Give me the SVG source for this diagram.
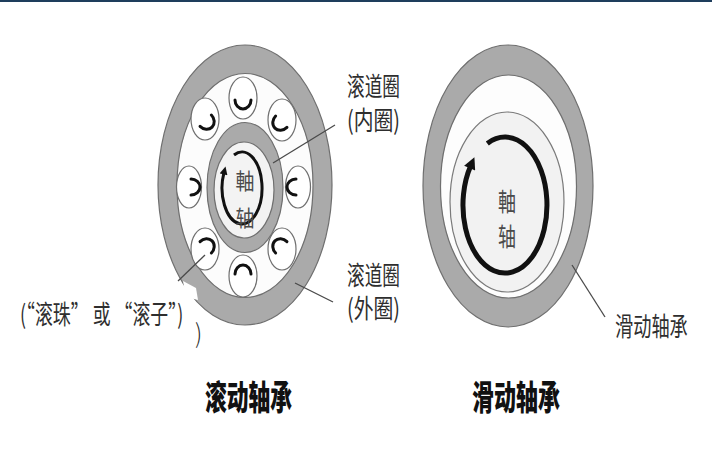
<svg xmlns="http://www.w3.org/2000/svg" width="712" height="467" viewBox="0 0 712 467">
  <defs>
    <style>
      .ring { fill: #aaaaaa; stroke: #6f6f6f; stroke-width: 1.2; }
      .gap { fill: #fcfcfc; stroke: #6f6f6f; stroke-width: 1.2; }
      .roller { fill: #ffffff; stroke: #6f6f6f; stroke-width: 1.2; }
      .cup { fill: none; stroke: #111; stroke-width: 3; stroke-linecap: round; }
      .lead { stroke: #4a4a4a; stroke-width: 1.3; fill: none; }
      .lbl { font-family: "Noto Sans CJK SC", "Noto Sans", sans-serif; fill: #2e2e2e; font-size: 26px; }
      .ttl { font-family: "Noto Sans CJK SC", "Noto Sans", sans-serif; font-weight: 900; fill: #111; font-size: 34px; }
      .axle { font-family: "Noto Sans CJK SC", "Noto Sans", sans-serif; fill: #4a4a4a; text-anchor: middle; }
    </style>
    <marker id="headS" viewBox="0 0 10 10" refX="2" refY="5" markerWidth="9" markerHeight="8" markerUnits="userSpaceOnUse" orient="auto">
      <path d="M0,0 L10,5 L0,10 Z" fill="#111"/>
    </marker>
    <marker id="headL" viewBox="0 0 10 10" refX="2" refY="5" markerWidth="14" markerHeight="12" markerUnits="userSpaceOnUse" orient="auto">
      <path d="M0,0 L10,5 L0,10 Z" fill="#111"/>
    </marker>
    <!-- cup-shaped mark inside a roller, bulging toward +y -->
    <path id="cup" class="cup" d="M-8,1 A8,9 0 0 0 8,1"/>
  </defs>

  <rect x="0" y="0" width="712" height="467" fill="#ffffff"/>
  <!-- top rule -->
  <rect x="0" y="0" width="712" height="2" fill="#1e3d5c"/>

  <!-- rolling-element bearing -->
  <g id="rolling-bearing">
    <ellipse class="ring" cx="245" cy="185" rx="87" ry="140"/>
    <ellipse class="gap" cx="245" cy="185.5" rx="68" ry="112"/>
    <g id="rollers">
      <ellipse class="roller" cx="243" cy="98" rx="14" ry="21"/>
      <use href="#cup" transform="translate(243,99)"/>
      <ellipse class="roller" cx="205" cy="119" rx="14" ry="21"/>
      <use href="#cup" transform="translate(205,120) rotate(-45)"/>
      <ellipse class="roller" cx="282" cy="120" rx="14" ry="21"/>
      <use href="#cup" transform="translate(282,121) rotate(45)"/>
      <ellipse class="roller" cx="189" cy="187" rx="12.5" ry="21"/>
      <use href="#cup" transform="translate(190,187) rotate(-90)"/>
      <ellipse class="roller" cx="298" cy="187" rx="12.5" ry="21"/>
      <use href="#cup" transform="translate(297,187) rotate(90)"/>
      <ellipse class="roller" cx="205" cy="249" rx="14" ry="21"/>
      <use href="#cup" transform="translate(205,248) rotate(-135)"/>
      <ellipse class="roller" cx="282" cy="249" rx="14" ry="21"/>
      <use href="#cup" transform="translate(282,248) rotate(135)"/>
      <ellipse class="roller" cx="243" cy="276" rx="14" ry="21"/>
      <use href="#cup" transform="translate(243,275) rotate(180)"/>
    </g>
    <ellipse class="ring" cx="245" cy="187.5" rx="38" ry="65"/>
    <ellipse cx="244" cy="190" rx="30" ry="48" fill="#f3f3f3" stroke="#6f6f6f" stroke-width="1.2"/>
    <path d="M234,155 A20,36 0 1 1 223.9,172.8" fill="none" stroke="#111" stroke-width="3" marker-end="url(#headS)"/>
    <text class="axle" transform="translate(245,189) scale(0.86,1)" font-size="22" textLength="22" lengthAdjust="spacingAndGlyphs">軸</text>
    <text class="axle" transform="translate(245,226) scale(0.86,1)" font-size="22" textLength="22" lengthAdjust="spacingAndGlyphs">轴</text>
    <!-- break in the outer ring -->
    <path d="M183,281 L196,288 L198,300 L186,297 Z" fill="#ffffff"/>
  </g>

  <!-- plain (sliding) bearing -->
  <g id="plain-bearing">
    <ellipse class="ring" cx="508" cy="186" rx="85" ry="141"/>
    <ellipse cx="508.5" cy="186.5" rx="68" ry="111.5" fill="#fdfdfd" stroke="#6f6f6f" stroke-width="1.2"/>
    <ellipse cx="507" cy="202" rx="57" ry="90" fill="#f2f2f2" stroke="#7a7a7a" stroke-width="1.2"/>
    <path d="M487.3,143.4 A42,68 0 1 1 470.6,166" fill="none" stroke="#111" stroke-width="5" marker-end="url(#headL)"/>
    <text class="axle" transform="translate(507,211) scale(0.72,1)" font-size="25" textLength="25" lengthAdjust="spacingAndGlyphs">軸</text>
    <text class="axle" transform="translate(507,246) scale(0.72,1)" font-size="25" textLength="25" lengthAdjust="spacingAndGlyphs">轴</text>
  </g>

  <!-- leader lines -->
  <g id="connectors">
    <line class="lead" x1="273" y1="163" x2="335" y2="125"/>
    <line class="lead" x1="295" y1="283" x2="333" y2="302"/>
    <line class="lead" x1="205" y1="255" x2="178" y2="281"/>
    <line class="lead" x1="572" y1="265" x2="605" y2="317"/>
  </g>

  <!-- labels -->
  <g id="label-inner-race">
    <text class="lbl" transform="translate(347,96) scale(0.68,1)" textLength="78" lengthAdjust="spacingAndGlyphs">滚道圈</text>
    <text class="lbl" transform="translate(347,130) scale(0.74,1)" textLength="71.6" lengthAdjust="spacingAndGlyphs">(内圈)</text>
  </g>
  <g id="label-outer-race">
    <text class="lbl" transform="translate(347,285) scale(0.68,1)" textLength="78" lengthAdjust="spacingAndGlyphs">滚道圈</text>
    <text class="lbl" transform="translate(347,318) scale(0.74,1)" textLength="71.6" lengthAdjust="spacingAndGlyphs">(外圈)</text>
  </g>
  <g id="label-rollers">
    <text class="lbl" transform="translate(20,324) scale(0.8,1)" textLength="204" lengthAdjust="spacingAndGlyphs">(“滚珠” 或 “滚子”)</text>
    <text class="lbl" transform="translate(195,343) scale(0.8,1)" font-size="28" font-weight="300" textLength="9" lengthAdjust="spacingAndGlyphs">)</text>
  </g>
  <g id="label-plain">
    <text class="lbl" transform="translate(615,336) scale(0.7,1)" textLength="104" lengthAdjust="spacingAndGlyphs">滑动轴承</text>
  </g>
  <g id="titles">
    <text class="ttl" transform="translate(205,410) scale(0.64,1)" textLength="136" lengthAdjust="spacingAndGlyphs">滚动轴承</text>
    <text class="ttl" transform="translate(472,410) scale(0.64,1)" textLength="137.5" lengthAdjust="spacingAndGlyphs">滑动轴承</text>
  </g>
</svg>
